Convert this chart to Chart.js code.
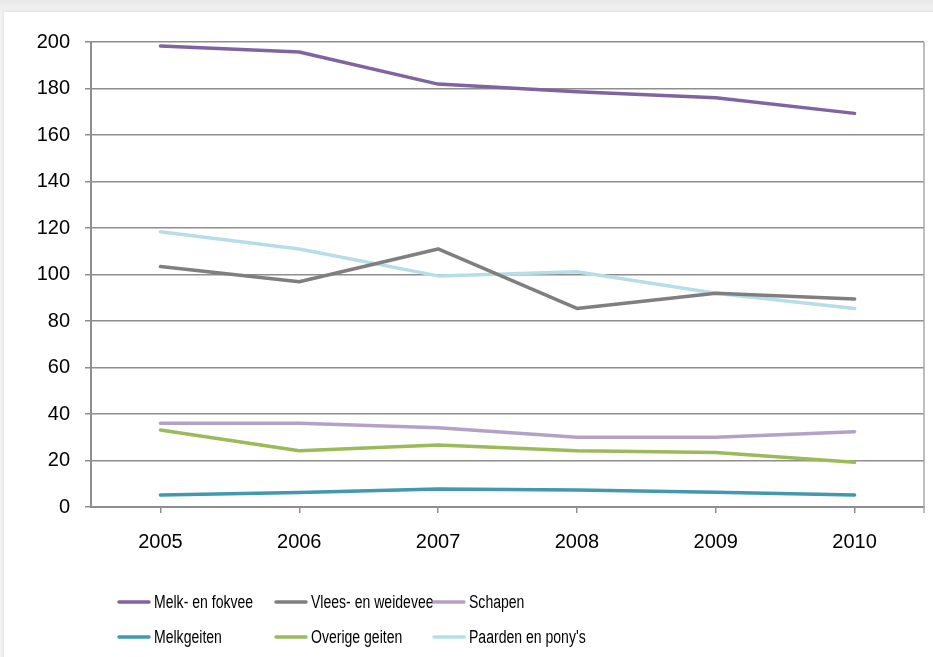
<!DOCTYPE html>
<html>
<head>
<meta charset="utf-8">
<script src="https://cdn.jsdelivr.net/npm/chart.js@4.4.1/dist/chart.umd.min.js"></script>
<style>
  html, body { margin: 0; padding: 0; }
  body {
    width: 933px; height: 657px; overflow: hidden; position: relative;
    background: linear-gradient(#e9e9e9, #f3f3f3 14px, #f3f3f3);
  }
  .card {
    position: absolute; left: 4px; top: 12px; width: 960px; height: 680px;
    background: #fff; box-shadow: 0 0 4px rgba(0,0,0,0.12);
  }
  canvas { position: absolute; left: 0; top: 0; }
</style>
</head>
<body>
<div class="card"></div>
<canvas id="chart" width="933" height="657"></canvas>
<script>
// Data
const years = ["2005", "2006", "2007", "2008", "2009", "2010"];
const melkFokvee = [198.3, 195.7, 181.9, 178.6, 176.0, 169.3];
const vleesWeidevee = [103.4, 96.9, 111.0, 85.4, 91.9, 89.5];
const schapen = [36.0, 36.0, 34.1, 30.0, 30.0, 32.4];
const melkgeiten = [5.2, 6.2, 7.7, 7.3, 6.3, 5.2];
const overigeGeiten = [33.1, 24.2, 26.7, 24.2, 23.4, 19.2];
const paarden = [118.4, 111.0, 99.4, 101.2, 91.9, 85.4];
const yTicks = [0, 20, 40, 60, 80, 100, 120, 140, 160, 180, 200];

const FONT = "'Liberation Sans', Arial, sans-serif";
const gridColor = "#8e8e8e";

function series(label, data, color) {
  return {
    label: label,
    data: data,
    borderColor: color,
    backgroundColor: color,
    borderWidth: 3.5,
    pointRadius: 0,
    tension: 0,
    borderCapStyle: "round",
    borderJoinStyle: "round",
  };
}

// Frame on the right side of the plot + legend drawn below
const framePlugin = {
  id: "frame",
  afterDraw(chart) {
    const ctx = chart.ctx;
    const a = chart.chartArea;
    ctx.save();
    ctx.strokeStyle = "#a8a8a8";
    ctx.lineWidth = 1.5;
    ctx.beginPath();
    ctx.moveTo(a.right, a.top);
    ctx.lineTo(a.right, a.bottom + 6);
    ctx.stroke();

    // legend, 3 columns x 2 rows, text squeezed like a narrow font
    const cols = [117, 274, 432];
    const rows = [602, 637];
    ctx.font = "18px " + FONT;
    ctx.textBaseline = "middle";
    ctx.fillStyle = "#000";
    chart.data.datasets.forEach(function (ds, i) {
      const x = cols[i % 3];
      const y = rows[Math.floor(i / 3)];
      ctx.strokeStyle = ds.borderColor;
      ctx.lineWidth = 3.5;
      ctx.lineCap = "round";
      ctx.beginPath();
      ctx.moveTo(x + 2, y);
      ctx.lineTo(x + 32, y);
      ctx.stroke();
      ctx.save();
      ctx.translate(x + 37, y + 1);
      ctx.scale(0.78, 1);
      ctx.fillText(ds.label, 0, 0);
      ctx.restore();
    });
    ctx.restore();
  },
};

new Chart(document.getElementById("chart"), {
  type: "line",
  data: {
    labels: years,
    datasets: [
      series("Melk- en fokvee", melkFokvee, "#8064a2"),
      series("Vlees- en weidevee", vleesWeidevee, "#7f7f7f"),
      series("Schapen", schapen, "#b3a2c7"),
      series("Melkgeiten", melkgeiten, "#4198af"),
      series("Overige geiten", overigeGeiten, "#9bbb59"),
      series("Paarden en pony's", paarden, "#b7dee8"),
    ],
  },
  options: {
    responsive: false,
    animation: false,
    layout: { padding: { top: 42, right: 9, left: 0, bottom: 0 } },
    plugins: {
      legend: { display: false },
      tooltip: { enabled: false },
    },
    scales: {
      x: {
        offset: true,
        grid: {
          offset: false,
          drawOnChartArea: false,
          color: gridColor,
          lineWidth: 1.5,
          tickLength: 6,
        },
        border: { color: gridColor, width: 2 },
        ticks: {
          color: "#000",
          font: { family: FONT, size: 20 },
          padding: 17,
        },
        afterFit(scale) { scale.height = 150; },
      },
      y: {
        min: 0,
        max: 200,
        afterBuildTicks(scale) {
          scale.ticks = yTicks.map(function (v) { return { value: v }; });
        },
        grid: {
          color: gridColor,
          lineWidth: 1.5,
          tickLength: 6,
        },
        border: { color: gridColor, width: 2 },
        ticks: {
          color: "#000",
          font: { family: FONT, size: 20 },
          padding: 15,
        },
        afterFit(scale) { scale.width = 91; },
      },
    },
  },
  plugins: [framePlugin],
});
</script>
</body>
</html>
